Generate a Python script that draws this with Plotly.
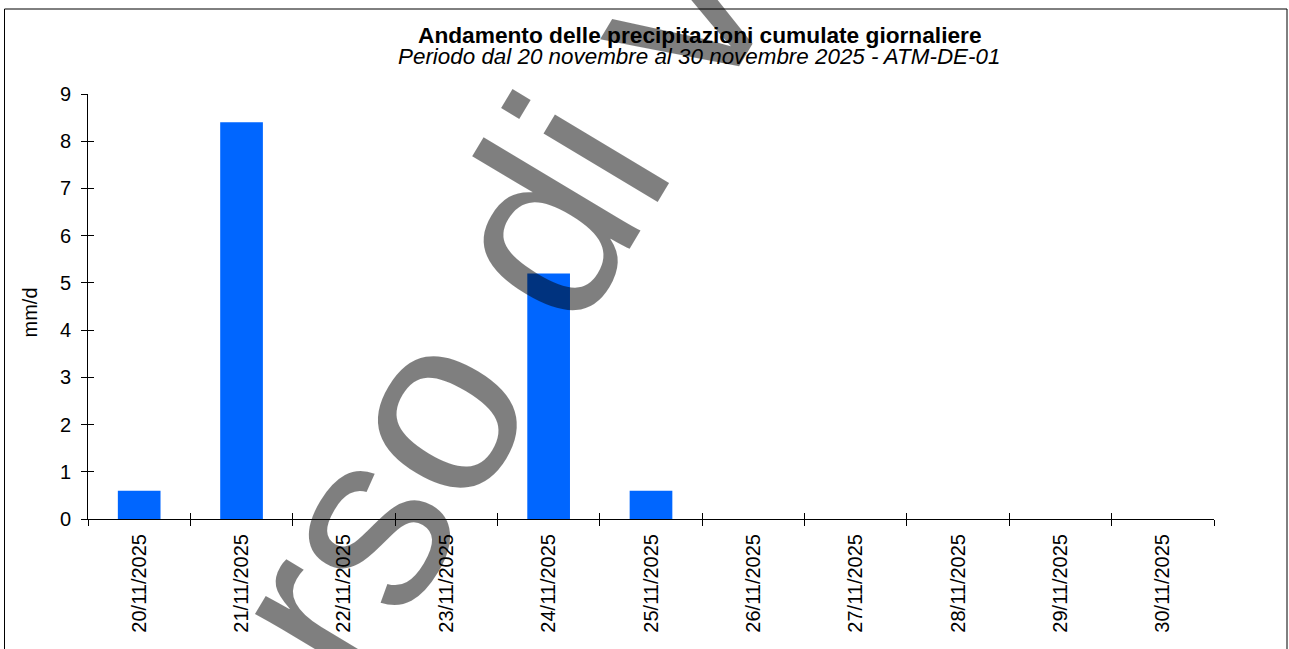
import plotly.graph_objects as go

# ---- data ----
dates = ["20/11/2025", "21/11/2025", "22/11/2025", "23/11/2025", "24/11/2025",
         "25/11/2025", "26/11/2025", "27/11/2025", "28/11/2025", "29/11/2025",
         "30/11/2025"]
rain_mm = [0.6, 8.4, 0.0, 0.0, 5.2, 0.6, 0.0, 0.0, 0.0, 0.0, 0.0]
y_ticks = [0, 1, 2, 3, 4, 5, 6, 7, 8, 9]

title_main = "Andamento delle precipitazioni cumulate giornaliere"
title_sub = "Periodo dal 20 novembre al 30 novembre 2025 - ATM-DE-01"
y_title = "mm/d"
watermark = "Dati in corso di validazione"

# ---- layout geometry (pixels) ----
W, H = 1289, 649
ML, MR, MT, MB = 88, 75, 94, 130
PW = W - ML - MR
PH = H - MT - MB


def px_x(x):
    return (x - ML) / PW


def px_y(y):
    return (H - MB - y) / PH


FONT = "Liberation Sans, Arial, sans-serif"
BLUE = "#0066FF"

fig = go.Figure()
fig.add_trace(go.Bar(
    x=dates, y=rain_mm, marker=dict(color=BLUE, line=dict(width=0)),
    hoverinfo="x+y", showlegend=False,
))
# invisible helper trace to drive the overlaid axes (inner halves of the crossing ticks)
fig.add_trace(go.Scatter(
    x=dates, y=rain_mm, xaxis="x2", yaxis="y2", mode="markers",
    marker=dict(size=1, opacity=0), hoverinfo="skip", showlegend=False,
))

axis_common = dict(showgrid=False, zeroline=False, tickcolor="black", tickwidth=1)

fig.update_layout(
    width=W, height=H,
    margin=dict(l=ML, r=MR, t=MT, b=MB, pad=0),
    paper_bgcolor="white", plot_bgcolor="white",
    bargap=0.583,
    font=dict(family=FONT, color="black", size=20),
    xaxis=dict(
        type="category", categoryorder="array", categoryarray=dates,
        range=[-0.5, len(dates) - 0.5], tickangle=-90, ticks="outside",
        ticklen=6, tickson="boundaries", showline=True, linecolor="black",
        linewidth=1, tickfont=dict(size=20, family=FONT, color="black"),
        ticklabelstandoff=6, **axis_common,
    ),
    xaxis2=dict(
        type="category", categoryorder="array", categoryarray=dates,
        range=[-0.5, len(dates) - 0.5], overlaying="x", ticks="inside",
        ticklen=6, tickson="boundaries", showticklabels=False, showline=False,
        **axis_common,
    ),
    yaxis=dict(
        range=[0, 9], tickvals=y_ticks, ticks="outside", ticklen=6,
        showline=True, linecolor="black", linewidth=1,
        tickfont=dict(size=20, family=FONT, color="black"),
        ticklabelstandoff=6, **axis_common,
    ),
    yaxis2=dict(
        range=[0, 9], tickvals=y_ticks, overlaying="y", side="left",
        ticks="inside", ticklen=6, showticklabels=False, showline=False,
        **axis_common,
    ),
)

annotations = [
    dict(text=watermark, xref="paper", yref="paper",
         x=px_x(516), y=px_y(267), xanchor="center", yanchor="middle",
         textangle=-59, showarrow=False,
         font=dict(family=FONT, size=252, color="rgba(0,0,0,0.5)")),
    dict(text="<b>" + title_main + "</b>", xref="paper", yref="paper",
         x=px_x(700), y=px_y(34.8), xanchor="center", yanchor="middle",
         showarrow=False, font=dict(family=FONT, size=22.7, color="black")),
    dict(text="<i>" + title_sub + "</i>", xref="paper", yref="paper",
         x=px_x(699), y=px_y(56.5), xanchor="center", yanchor="middle",
         showarrow=False, font=dict(family=FONT, size=22.4, color="black")),
    dict(text=y_title, xref="paper", yref="paper",
         x=px_x(29.5), y=px_y(313), xanchor="center", yanchor="middle",
         textangle=-90, showarrow=False,
         font=dict(family=FONT, size=20, color="black")),
]
fig.update_layout(annotations=annotations)

# outer chart frame
fig.add_shape(type="rect", xref="paper", yref="paper",
              x0=px_x(4.5), x1=px_x(1287), y0=px_y(H + 20), y1=px_y(9),
              line=dict(color="black", width=1), fillcolor="rgba(0,0,0,0)",
              layer="below")

fig.write_html("out.html", config={"displayModeBar": False},
               post_script="document.body.style.margin='0';")
